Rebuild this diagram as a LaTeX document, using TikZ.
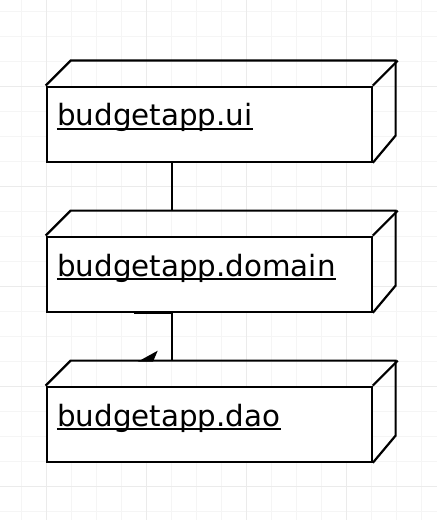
\documentclass[tikz,border=0pt]{standalone}
\usepackage{fontspec}
\newfontfamily\labelfont{DejaVu Sans}
\usepackage{tikz}

\tikzset{
  minorgrid/.style={line width=0.75pt, black!4},
  majorgrid/.style={line width=0.75pt, black!8},
  pkg/.style={draw, fill=white, line width=1.65pt, minimum width=243.75pt, minimum height=56.25pt, inner sep=0pt},
  edge/.style={line width=1.65pt, line join=miter},
  pkglabel/.style={anchor=base west, inner sep=0pt, font=\labelfont\fontsize{22}{26}\selectfont},
  uline/.style={line width=1.5pt}
}

\begin{document}
\begin{tikzpicture}[x=0.75pt, y=-0.75pt]
		\useasboundingbox (0,0) rectangle (437,520);
		% grid
		\foreach \gx in {-3.3,21.7,...,446.7} \draw[minorgrid] (\gx,0)--(\gx,520);
		\foreach \gy in {11.7,36.7,...,520} \draw[minorgrid] (0,\gy)--(437,\gy);
		\foreach \gx in {46.7,146.7,...,446.7} \draw[majorgrid] (\gx,0)--(\gx,520);
		\foreach \gy in {86.7,186.7,...,520} \draw[majorgrid] (0,\gy)--(437,\gy);
		% stray arrow head under the dao box
		\fill (137.7,361.7)--(157.7,350.7)--(153,361.7)--cycle;
		% packages
		\foreach \name/\y/\txt in {ui/124.2/budgetapp.ui, domain/274.2/budgetapp.domain, dao/424.2/budgetapp.dao} {
			\node[pkg] (\name) at (209.2,\y) {};
			\draw[edge] (\name.north west)--++(25,-25)--++(325,0)--++(0,75)--(\name.south east);
			\draw[edge] (\name.north east)--++(25,-25);
			\node[pkglabel] (\name label) at ([xshift=8.5pt, yshift=-30.3pt]\name.north west) {\txt};
			\draw[uline] ([yshift=-2.2pt]\name label.base west)--([yshift=-2.2pt]\name label.base east);
		}
		% dependencies
		\draw[edge] ([xshift=-28.1pt]ui.south)--([xshift=-28.1pt, yshift=18.75pt]domain.north);
		\draw[edge] ([xshift=-28.1pt]domain.south)--([xshift=-28.1pt, yshift=18.75pt]dao.north);
		\draw[edge] ([xshift=-28.1pt]domain.south)--++(-37.7,0);
\end{tikzpicture}
\end{document}
